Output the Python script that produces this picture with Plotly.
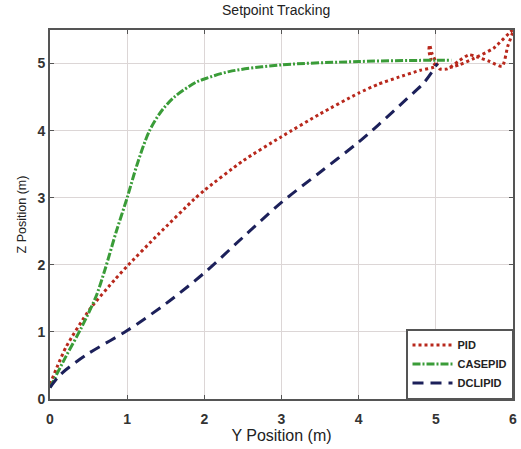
import plotly.graph_objects as go

# PID trajectory (Y, Z)
pid_y = [0.0, 0.1, 0.21, 0.51, 0.84, 1.0, 1.4, 1.87, 2.0, 2.5, 3.0, 3.5, 4.0, 4.25, 4.5, 4.8, 5.0,
         4.94, 4.91, 4.92, 4.95, 5.0, 5.05, 5.15, 5.3, 5.43, 5.53, 5.7, 5.86, 5.93, 6.0, 5.75, 5.5, 5.3, 5.15]
pid_z = [0.22, 0.5, 0.78, 1.33, 1.78, 1.98, 2.45, 2.98, 3.11, 3.55, 3.91, 4.25, 4.56, 4.69, 4.79, 4.9, 4.96,
         5.05, 5.2, 5.28, 5.15, 5.03, 4.92, 4.92, 5.04, 5.13, 5.1, 5.03, 4.96, 5.25, 5.5, 5.23, 5.08, 4.98, 4.93]

# CASEPID trajectory
case_y = [0.0, 0.2, 0.41, 0.6, 0.71, 0.86, 1.0, 1.13, 1.29, 1.45, 1.61, 1.89, 2.0, 2.32, 3.0,
          4.0, 5.0, 5.2]
case_z = [0.17, 0.62, 1.07, 1.54, 1.92, 2.5, 3.0, 3.5, 4.0, 4.3, 4.5, 4.72, 4.77, 4.88, 4.98,
          5.03, 5.05, 5.05]

# DCLIPID trajectory
dcl_y = [0.0, 0.1, 0.21, 0.5, 1.0, 1.5, 2.0, 2.5, 3.0, 3.5, 4.0, 4.25, 4.63, 4.85, 5.02]
dcl_z = [0.17, 0.32, 0.44, 0.68, 1.02, 1.42, 1.88, 2.41, 2.93, 3.38, 3.83, 4.08, 4.48, 4.72, 5.0]

FONT = "Liberation Sans, Arial, sans-serif"

fig = go.Figure()
fig.add_trace(go.Scatter(x=pid_y, y=pid_z, mode="lines", name="PID",
                         line=dict(color="#b8281c", width=3, dash="dot", shape="spline", smoothing=0.6)))
fig.add_trace(go.Scatter(x=case_y, y=case_z, mode="lines", name="CASEPID",
                         line=dict(color="#3a9c38", width=3, dash="8px,2px,2px,2px", shape="spline", smoothing=0.9)))
fig.add_trace(go.Scatter(x=dcl_y, y=dcl_z, mode="lines", name="DCLIPID",
                         line=dict(color="#1c205a", width=3, dash="11px,7px", shape="spline", smoothing=0.9)))

axis_common = dict(showgrid=True, gridcolor="#dcd6d6", gridwidth=1, zeroline=False,
                   showline=True, linecolor="#555555", linewidth=2, mirror="allticks",
                   ticks="inside", ticklen=4, tickcolor="#555555",
                   tickfont=dict(family=FONT, size=14, color="#333333", weight="bold"))

fig.update_layout(
    width=521, height=449,
    margin=dict(l=50, r=4, t=30, b=50),
    paper_bgcolor="white", plot_bgcolor="white",
    title=dict(text="Setpoint Tracking", x=0.53, xanchor="center", y=0.988, yanchor="top",
               font=dict(family=FONT, size=14, color="#222222")),
    xaxis=dict(range=[0, 6], tickvals=[0, 1, 2, 3, 4, 5, 6], ticklabelstandoff=6,
               title=dict(text="Y Position (m)", standoff=4,
                          font=dict(family=FONT, size=16, color="#222222")),
               **axis_common),
    yaxis=dict(range=[0, 5.5], tickvals=[0, 1, 2, 3, 4, 5],
               title=dict(text="Z Position (m)", standoff=8,
                          font=dict(family=FONT, size=12.5, color="#222222")),
               **axis_common),
    legend=dict(x=1, y=0, xanchor="right", yanchor="bottom",
                bgcolor="white", bordercolor="#555555", borderwidth=1.5,
                font=dict(family=FONT, size=11, color="#222222", weight="bold"),
                tracegroupgap=0, itemwidth=40),
    showlegend=True,
)

fig.write_html("out.html")
